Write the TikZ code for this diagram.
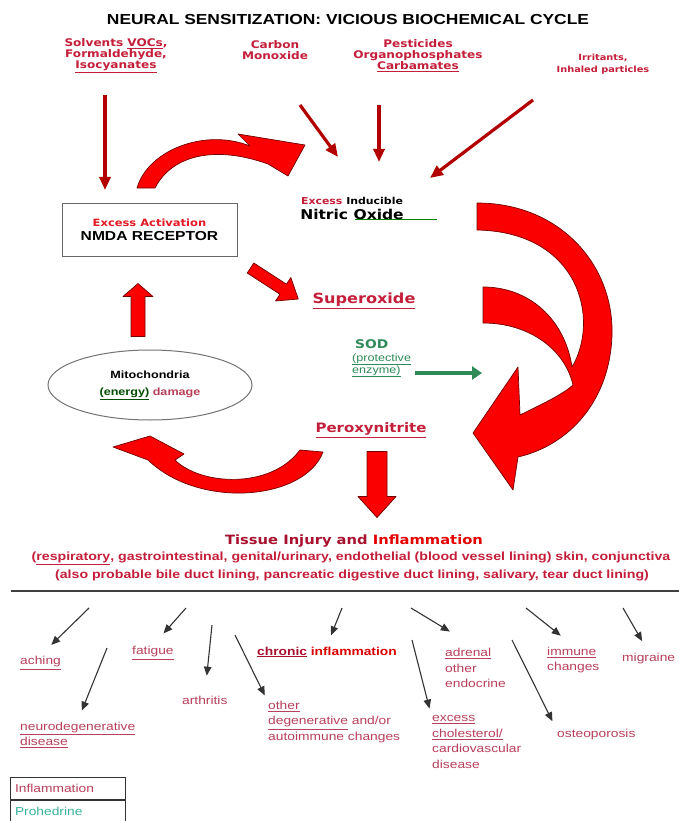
\documentclass[tikz,border=0pt]{standalone}
\usepackage{fontspec}
\setmainfont{DejaVu Sans}[FakeStretch=1.15]
\newfontfamily\arialfont{Liberation Sans}[FakeStretch=1.2]
\usetikzlibrary{arrows.meta,positioning,shapes.geometric}
\definecolor{nsCrimson}{HTML}{C41E3A}
\definecolor{nsPink}{HTML}{B8405A}
\definecolor{nsGreen}{HTML}{2E8B57}
\definecolor{nsTeal}{HTML}{36B39A}
\definecolor{nsDark}{HTML}{A8102E}
\providecommand{\nsColorFill}{red!98!black}
\providecommand{\nsColorEdge}{red!45!black}
\providecommand{\nsColorFeed}{red!70!black}
\providecommand{\nsColorText}{nsCrimson}
\providecommand{\nsColorLabel}{nsPink}
\providecommand{\nsColorSod}{nsGreen}
\newcommand{\nsTitleFont}{\arialfont\bfseries\fontsize{14.5}{16}\selectfont}
\newcommand{\nsSrcFont}{\bfseries\fontsize{10.5}{11}\selectfont}
\newcommand{\nsIrrFont}{\bfseries\fontsize{8.5}{12}\selectfont}
\newcommand{\nsHdrFont}{\bfseries\fontsize{13}{15}\selectfont}
\newcommand{\nsLblFont}{\arialfont\fontsize{11.5}{15.5}\selectfont}
\newcommand{\nsOrgFont}{\arialfont\bfseries\fontsize{11.8}{17}\selectfont}
\newcommand{\nsSodFont}{\arialfont\fontsize{10.5}{15}\selectfont}
\tikzset{
  src/.style={text=\nsColorText,font=\nsSrcFont,align=center,inner sep=1pt},
  hdr/.style={text=\nsColorText,font=\nsHdrFont,inner sep=1pt},
  lbl/.style={text=\nsColorLabel,font=\nsLblFont,align=left,anchor=west,inner sep=1pt},
  legbox/.style={draw=black!80,thick,text width=105pt,inner xsep=5pt,minimum height=22pt,font=\nsLblFont,align=left},
  feed/.style={draw=\nsColorFeed,line width=3.2pt,-{Triangle[length=13pt,width=11pt]}},
  effect/.style={draw=black!80,line width=1.1pt,-{Triangle[length=9pt,width=7.5pt]}},
  bigarrow/.style={fill=\nsColorFill,draw=\nsColorEdge,line width=0.7pt,line join=round},
  sodarrow/.style={draw=\nsColorSod,line width=4.5pt,-{Triangle[length=10pt,width=13pt]}},
}
\begin{document}
\begin{tikzpicture}[x=1pt,y=-1pt]
\useasboundingbox[fill=white] (0,0) rectangle (679,821);
% --- Title and sources -----------------------------------------------------
  \node[font=\nsTitleFont] (title) at (348,20) {NEURAL SENSITIZATION: VICIOUS BIOCHEMICAL CYCLE};

  \node[src] (solv) at (116,56) {Solvents \underline{VOCs},\\Formaldehyde,\\\underline{Isocyanates}};

  \node[src] (carbon) at (275,50) {Carbon\\Monoxide};

  \node[src] (pest) at (418,56) {Pesticides\\Organophosphates\\\underline{Carbamates}};

  \node[src,font=\nsIrrFont] (irrit) at (603,64) {Irritants,\\Inhaled particles};

% --- Cycle nodes -----------------------------------------------------------
  \node[draw=black!60,line width=1pt,minimum width=175pt,minimum height=53pt,align=center] (nmda) at (149.5,230)
    {{\nsSrcFont\fontsize{10}{12}\selectfont\textcolor{red!60!nsPink}{Excess Activation}}\\[2pt]{\arialfont\bfseries\fontsize{13}{14}\selectfont NMDA RECEPTOR}};

  \node[align=center,inner sep=1pt] (no) at (352,208)
    {{\nsSrcFont\fontsize{9.5}{12}\selectfont\textcolor{\nsColorText}{Excess} Inducible}\\[3pt]{\bfseries\fontsize{13.5}{15}\selectfont Nitric Oxide}};

  \node[hdr,font=\nsHdrFont\fontsize{14}{15}\selectfont] (super) at (364,301) {\underline{Superoxide}};

  \node[anchor=north west,align=left,text=\nsColorSod,inner sep=0pt] (sod) at (352,339)
    {\hspace*{3pt}{\bfseries\fontsize{12}{14}\selectfont SOD}\\[1pt]{\nsSodFont\underline{(protective}}\\{\nsSodFont\underline{enzyme)}}};

  \node[hdr] (perox) at (371,430) {\underline{Peroxynitrite}};

  \node[ellipse,draw=black!55,line width=1pt,minimum width=204pt,minimum height=70pt,inner sep=0pt,align=center] (mito) at (150,385)
    {{\arialfont\bfseries\fontsize{10.5}{12}\selectfont Mitochondria}\\[5pt]{\arialfont\bfseries\fontsize{10.5}{12}\selectfont\textcolor{black!70!green}{\underline{(energy)}} \textcolor{nsPink}{damage}}};

% --- Tissue injury ---------------------------------------------------------
  \node[font=\bfseries\fontsize{12.8}{15}\selectfont,inner sep=1pt] (tissue) at (354,541)
    {\textcolor{nsDark}{Tissue Injury and} \textcolor{red!90!black}{Inflammation}};

  \node[font=\nsOrgFont,text=\nsColorText,inner sep=1pt] (organs) at (351,558)
    {(\underline{respiratory}, gastrointestinal, genital/urinary, endothelial (blood vessel lining) skin, conjunctiva};

  \node[font=\nsOrgFont,text=\nsColorText,inner sep=1pt] (ducts) at (352,575)
    {(also probable bile duct lining, pancreatic digestive duct lining, salivary, tear duct lining)};

  \draw[line width=1.6pt,black!75] (11,591) -- (679,591);

% --- Effects ---------------------------------------------------------------
  \node[lbl] (aching) at (19,663) {\underline{aching}};
  \node[lbl] (fatigue) at (131,653) {\underline{fatigue}};
  \node[lbl] (arthritis) at (181,700) {arthritis};
  \node[lbl] (neuro) at (19,735) {\underline{neurodegenerative}\\\underline{disease}};
  \node[lbl,font=\nsLblFont\bfseries] (chronic) at (256,652) {\textcolor{nsDark}{\underline{chronic}} \textcolor{red!85!black}{inflammation}};
  \node[lbl] (otherdeg) at (267,722) {\underline{other}\\\underline{degenerative} and/or\\autoimmune changes};
  \node[lbl] (adrenal) at (444,668) {\underline{adrenal}\\other\\endocrine};
  \node[lbl] (chol) at (431,742) {\underline{excess}\\\underline{cholesterol/}\\cardiovascular\\disease};
  \node[lbl] (immune) at (546,660) {\underline{immune}\\changes};
  \node[lbl] (migraine) at (621,659) {migraine};
  \node[lbl] (osteo) at (556,735) {osteoporosis};

  \node[legbox,text=nsPink] (legInfl) at (67.5,788.5) {Inflammation};
  \node[legbox,text=nsTeal,below=0pt of legInfl] (legProd) {Prohedrine};

% --- Big cycle arrows ------------------------------------------------------
  \filldraw[bigarrow] (137,188) .. controls (148,150) and (205,128) .. (250,146) -- (238,134) -- (305,145)
    -- (288,176) -- (268,164) .. controls (215,145) and (172,155) .. (155,188) -- cycle;

  \filldraw[bigarrow] (477,203) .. controls (560,203) and (614,265) .. (612,335)
    .. controls (610,400) and (570,445) .. (518,457) -- (513,490) -- (473,433) -- (518,367) -- (520,415)
    .. controls (540,405) and (562,395) .. (573,385)
    .. controls (565,350) and (530,323) .. (483,323) -- (483,287)
    .. controls (530,287) and (565,320) .. (572,367)
    .. controls (600,320) and (580,232) .. (477,230) -- cycle;

  \filldraw[bigarrow] (300,450) -- (323,452) .. controls (305,500) and (200,510) .. (148,460) -- (113,447)
    -- (150,436) -- (184,454) -- (175,460) .. controls (200,485) and (270,490) .. (300,450) -- cycle;

  \filldraw[bigarrow] ([xshift=-19pt,yshift=13pt]mito.north) -- ++(0,-40) -- ++(-8,0) -- ++(15,-13)
    -- ++(15,13) -- ++(-8,0) -- ++(0,40) -- cycle;

  \filldraw[bigarrow] ([xshift=-4pt,yshift=-13pt]perox.south) -- ++(0,45) -- ++(-9,0) -- ++(19,21)
    -- ++(19,-21) -- ++(-9,0) -- ++(0,-45) -- cycle;

  \begin{scope}[shift={([xshift=13pt,yshift=-11pt]nmda.south east)},rotate=-33]
    \filldraw[bigarrow] (0,-6) -- (39,-6) -- (39,-14) -- (57,0) -- (39,14) -- (39,6) -- (0,6) -- cycle;
  \end{scope}

% --- Edges -----------------------------------------------------------------
  \coordinate (nmdaIn) at (105,190);
  \coordinate (noA) at (338,157);
  \coordinate (noB) at (379,162);
  \coordinate (noC) at (430,178);
  \coordinate (sodTo) at (482,373);

  \draw[feed] ([xshift=-11pt,yshift=-39pt]solv.center) -- (nmdaIn);

  \draw[feed] ([xshift=25pt,yshift=-55pt]carbon.center) -- (noA);

  \draw[feed] ([xshift=-39pt,yshift=-49pt]pest.center) -- (noB);

  \draw[feed] ([xshift=-70pt,yshift=-36pt]irrit.center) -- (noC);

  \draw[draw=black!50!green,line width=0.8pt] ([xshift=3pt,yshift=1pt]no.south) -- ++(82,0);

  \draw[sodarrow,shorten <=4pt] (sod.east |- sodTo) -- (sodTo);

  \foreach \n/\x/\y in {1/89/608,2/186/608,3/342/608,4/411/608,5/526/608,6/623/608,
                        7/107/648,8/212/625,9/235/635,10/412/640,11/512/640}
    \coordinate (t\n) at (\x,\y);

  \foreach \n/\g/\s in {1/aching.north/15,2/fatigue.north/16,3/chronic.north/11,4/adrenal.north/30,
                        5/immune.north/16,6/migraine.north/13,7/neuro.north/11,8/arthritis.north/19,
                        9/otherdeg.north west/5,10/chol.north west/6,11/osteo.north west/8}
    \draw[effect,shorten >=\s pt] (t\n) -- (\g);

\end{tikzpicture}
\end{document}
